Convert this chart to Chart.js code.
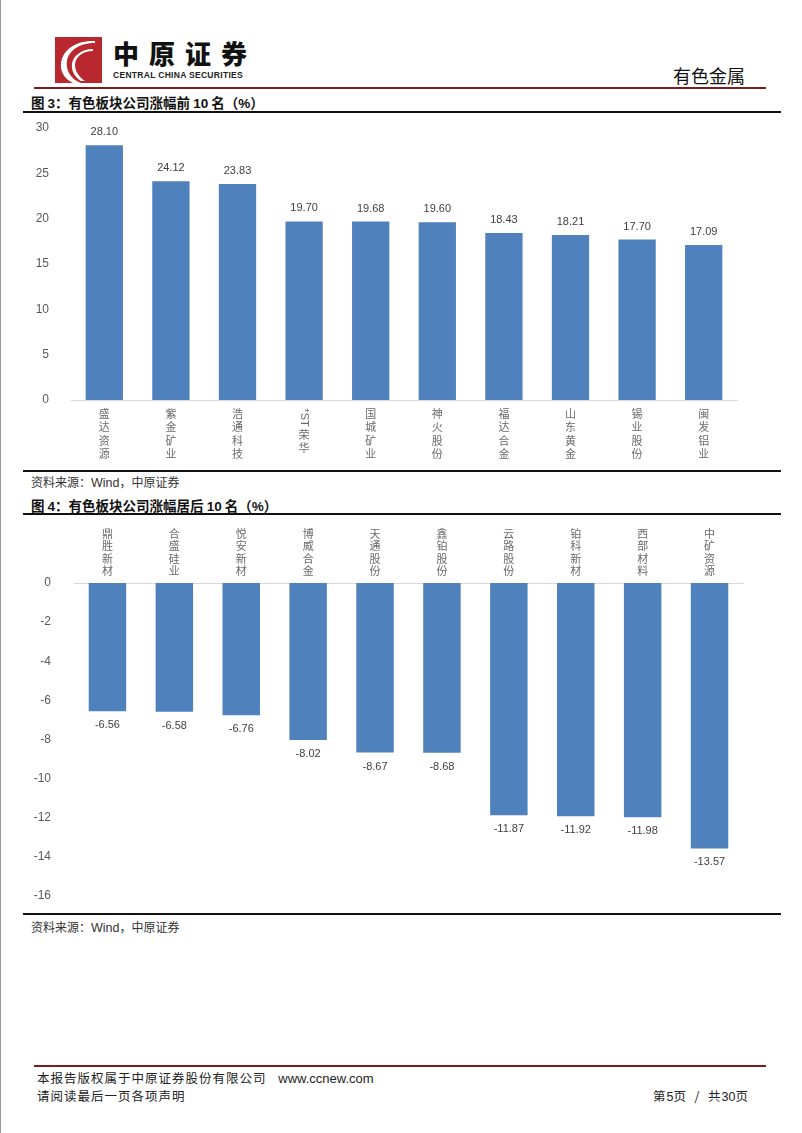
<!DOCTYPE html>
<html>
<head>
<meta charset="utf-8">
<script src="https://cdn.jsdelivr.net/npm/chart.js@4.4.1/dist/chart.umd.min.js"></script>
<style>
  body { margin: 0; background: #fff; font-family: "Noto Sans CJK SC", sans-serif; }
  #page { position: relative; width: 802px; height: 1133px; overflow: hidden; border-left: 1px solid #9a9a9a; box-sizing: border-box; }
  .abs { position: absolute; white-space: nowrap; }
  .rule { position: absolute; height: 2px; background: #111; }
  .red { position: absolute; height: 2px; background: #7f1d1d; }
  .ttl { font-size: 13.5px; font-weight: bold; color: #111; }
  .ttl b { font-family: "Liberation Sans", Arial, sans-serif; }
  .src { font-size: 12px; color: #333; }
  .src span { font-family: "Liberation Sans", Arial, sans-serif; font-size: 12.5px; }
  .foot { font-size: 12.5px; color: #222; letter-spacing: 1px; }
  .foot span { font-family: "Liberation Sans", Arial, sans-serif; letter-spacing: 0; }
  canvas { position: absolute; left: 0; }
</style>
</head>
<body>
<div id="page">
  <!-- header -->
  <svg class="abs" style="left:54px;top:37px" width="47" height="46" viewBox="0 0 47 46">
    <rect width="47" height="46" fill="#b8282e"/>
    <path d="M40 6 C22 6 10 16 12 30 C13 38 20 44 26 46 L18 46 C9 42 5 34 6 26 C8 12 22 3 40 4 Z" fill="#fff"/>
    <path d="M38 14 C28 14 20 20 20 28 C20 34 24 40 30 44 L26 44 C20 40 16 34 17 27 C18 18 28 12 38 12 Z" fill="#fff"/>
  </svg>
  <div class="abs" style="left:112px;top:34px;font-size:26px;font-weight:900;letter-spacing:10px;color:#111;">中原证券</div>
  <div class="abs" style="left:112px;top:70px;font-size:8.5px;font-weight:bold;font-family:'Liberation Sans',sans-serif;letter-spacing:0.3px;color:#222;">CENTRAL CHINA SECURITIES</div>
  <div class="abs" style="left:672px;top:62px;font-size:18px;color:#111;">有色金属</div>
  <div class="red" style="left:33px;top:87px;width:732px;"></div>

  <!-- figure 3 -->
  <div class="abs ttl" style="left:30px;top:92px;">图 <b>3</b>：有色板块公司涨幅前 <b>10</b> 名（<b>%</b>）</div>
  <div class="rule" style="left:22px;top:111px;width:758px;"></div>
  <canvas id="c1" width="802" height="355" style="top:115px"></canvas>
  <div class="rule" style="left:22px;top:470px;width:758px;"></div>
  <div class="abs src" style="left:30px;top:473px;">资料来源：<span>Wind</span>，中原证券</div>

  <!-- figure 4 -->
  <div class="abs ttl" style="left:30px;top:495px;">图 <b>4</b>：有色板块公司涨幅居后 <b>10</b> 名（<b>%</b>）</div>
  <div class="rule" style="left:22px;top:513px;width:758px;"></div>
  <canvas id="c2" width="802" height="398" style="top:517px"></canvas>
  <div class="rule" style="left:22px;top:913px;width:758px;"></div>
  <div class="abs src" style="left:30px;top:918px;">资料来源：<span>Wind</span>，中原证券</div>

  <!-- footer -->
  <div class="red" style="left:33px;top:1065px;width:732px;"></div>
  <div class="abs foot" style="left:36px;top:1068px;">本报告版权属于中原证券股份有限公司 <span style="font-size:13px;margin-left:8px;">www.ccnew.com</span></div>
  <div class="abs foot" style="left:36px;top:1086px;">请阅读最后一页各项声明</div>
  <div class="abs foot" style="left:652px;top:1086px;">第<span>5</span>页 &nbsp;/ &nbsp;共<span>30</span>页</div>
</div>

<script>
'use strict';

//DATA
var topNames = ['盛达资源', '紫金矿业', '浩通科技', '*ST荣华', '国城矿业', '神火股份', '福达合金', '山东黄金', '锡业股份', '闽发铝业'];
var topValues = [28.10, 24.12, 23.83, 19.70, 19.68, 19.60, 18.43, 18.21, 17.70, 17.09];
var topTicks = [0, 5, 10, 15, 20, 25, 30];

var bottomNames = ['鼎胜新材', '合盛硅业', '悦安新材', '博威合金', '天通股份', '鑫铂股份', '云路股份', '铂科新材', '西部材料', '中矿资源'];
var bottomValues = [-6.56, -6.58, -6.76, -8.02, -8.67, -8.68, -11.87, -11.92, -11.98, -13.57];
var bottomTicks = [0, -2, -4, -6, -8, -10, -12, -14, -16];

var BAR = 'rgb(79,129,189)';
var CJK = '"Noto Sans CJK SC", sans-serif';
var LAT = '"Liberation Sans", Arial, sans-serif';

//split a label into stacked pieces: latin runs stay together (drawn turned), cjk chars one by one
function pieces(txt) {
   var out = [], run = '';
   for (var i = 0; i < txt.length; i++) {
      var ch = txt[i];
      if (/[\x00-\x7f]/.test(ch)) { run += ch; continue; }
      if (run) { out.push({t: run, latin: true}); run = ''; }
      out.push({t: ch, latin: false});
   }
   if (run) out.push({t: run, latin: true});
   return out;
}

//vertical category labels, drawn under (or over) the axis
function vLabels(names, mode) {
   return {
      id: 'vlabels',
      afterDraw: function (chart) {
         var ctx = chart.ctx, xs = chart.scales.x, area = chart.chartArea;
         var step = mode === 'below' ? 13.3 : 12.5;
         ctx.save();
         ctx.fillStyle = '#6a6a6a';
         ctx.textAlign = 'center';
         ctx.textBaseline = 'middle';
         names.forEach(function (n, i) {
            var x = xs.getPixelForTick(i);
            var ps = pieces(n);
            ctx.font = '11px ' + LAT;
            var sizes = ps.map(function (p) { return p.latin ? ctx.measureText(p.t).width + 2 : step; });
            var total = sizes.reduce(function (a, b) { return a + b; }, 0);
            var y = mode === 'below' ? area.bottom + 14 - step / 2 : area.top - 12 - total + step / 2;
            ps.forEach(function (p, k) {
               if (p.latin) {
                  ctx.save();
                  ctx.translate(x, y + sizes[k] / 2);
                  ctx.rotate(Math.PI / 2);
                  ctx.font = '11px ' + LAT;
                  ctx.fillText(p.t, 0, 0);
                  ctx.restore();
               } else {
                  ctx.font = '11px ' + CJK;
                  ctx.fillText(p.t, x, y + step / 2);
               }
               y += sizes[k];
            });
         });
         ctx.restore();
      }
   };
}

//value labels at bar ends
var valueLabels = {
   id: 'vals',
   afterDatasetsDraw: function (chart) {
      var ctx = chart.ctx, meta = chart.getDatasetMeta(0), data = chart.data.datasets[0].data;
      ctx.save();
      ctx.font = '11px ' + LAT;
      ctx.fillStyle = '#404040';
      ctx.textAlign = 'center';
      ctx.textBaseline = 'middle';
      meta.data.forEach(function (bar, i) {
         var v = data[i];
         var y = v >= 0 ? bar.y - 13 : bar.y + 14;
         ctx.fillText(v.toFixed(2), bar.x, y);
      });
      ctx.restore();
   }
};

function makeChart(id, names, values, ticks, opt) {
   return new Chart(document.getElementById(id), {
      type: 'bar',
      data: {
         labels: names,
         datasets: [{ data: values, backgroundColor: BAR, categoryPercentage: 1, barPercentage: 0.56 }]
      },
      options: {
         responsive: false,
         animation: false,
         devicePixelRatio: 1,
         layout: { padding: opt.padding },
         plugins: { legend: { display: false }, tooltip: { enabled: false } },
         scales: {
            x: {
               position: opt.xPos,
               grid: { display: false },
               border: { display: true, color: '#d9d9d9', width: 1 },
               ticks: { display: false }
            },
            y: {
               min: opt.min, max: opt.max,
               afterFit: function (s) { s.width = opt.yWidth; s.paddingTop = 0; s.paddingBottom = 0; },
               afterBuildTicks: function (s) { s.ticks = ticks.map(function (v) { return {value: v}; }); },
               grid: { display: false },
               border: { display: false },
               ticks: { padding: opt.tickPad, color: '#595959', font: { family: LAT, size: 12 } }
            }
         }
      },
      plugins: [valueLabels, vLabels(names, opt.xPos === 'top' ? 'above' : 'below')]
   });
}

makeChart('c1', topNames, topValues, topTicks, {
   min: 0, max: 30, xPos: 'bottom', yWidth: 70, tickPad: 14,
   padding: { top: 13, bottom: 62, left: 0, right: 66 }
});

makeChart('c2', bottomNames, bottomValues, bottomTicks, {
   min: -16, max: 0, xPos: 'top', yWidth: 73, tickPad: 15,
   padding: { top: 58, bottom: 19, left: 0, right: 60 }
});
</script>
</body>
</html>
